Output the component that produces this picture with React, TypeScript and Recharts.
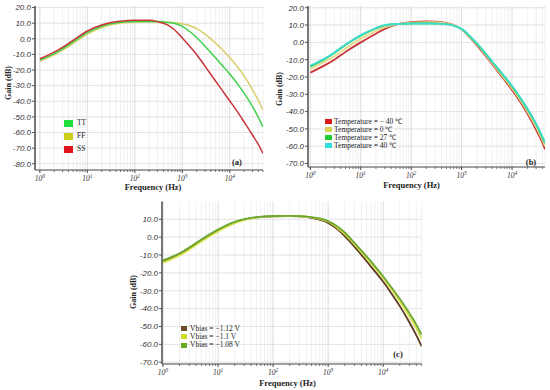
import React from 'react';
import { LineChart, Line, XAxis, YAxis, CartesianGrid, Legend } from 'recharts';

// ---------- data ----------
const freqs = [1, 2, 3, 5, 10, 20, 30, 50, 100, 200, 300, 500, 700, 1000, 1500, 2000, 3000, 5000, 7000, 10000, 15000, 20000, 30000, 40000, 50000];
const freqsB = [1, 2, 3, 5, 10, 20, 30, 50, 100, 200, 300, 500, 700, 1000, 1500, 2000, 3000, 5000, 7000, 10000, 15000, 20000, 30000, 40000, 45000];

// (a) process corners
const gainTT = [-13.6, -9.5, -6.5, -2, 4, 8, 9.6, 10.6, 11, 11.1, 11, 10.5, 9.8, 8, 4.2, 0.8, -4.8, -12.2, -17.2, -22.6, -29.5, -34.8, -43.3, -50.4, -56.5];
const gainFF = [-14.3, -10.3, -7.3, -3, 3, 7.2, 8.9, 10, 10.6, 10.7, 10.7, 10.5, 10.3, 9.7, 8.2, 6.5, 3, -2.8, -7, -12, -18.5, -23.7, -32.5, -39.5, -45.5];
const gainSS = [-12.8, -8.5, -5.5, -1, 5, 8.8, 10.3, 11.3, 11.9, 11.8, 11, 8.8, 5.5, 0.5, -5.5, -10, -17.5, -27, -33.2, -39.8, -47.4, -53.2, -61.6, -67.8, -73.3];

// (b) temperature
const gainTm40 = [-17.5, -13, -10, -5.5, 0, 5, 7.8, 10.3, 11.7, 12.1, 12, 11.2, 10, 7.5, 2.4, -1.6, -7.9, -16.1, -21.6, -27.5, -35, -41, -50.5, -58, -61.8];
const gainT0 = [-15.5, -11, -8, -3.5, 2, 6.5, 8.8, 10.4, 11.4, 11.7, 11.6, 11, 9.9, 7.6, 2.7, -1.1, -7.3, -15.4, -20.8, -26.5, -34, -39.8, -49, -56.5, -60];
const gainT27 = [-14, -9.5, -6.2, -1.5, 3.8, 8, 9.8, 10.6, 10.9, 11, 10.9, 10.5, 9.6, 7.7, 3.1, -0.7, -6.7, -14.6, -19.8, -25.5, -32.8, -38.5, -47.4, -55, -58.3];
const gainT40 = [-13.4, -9, -5.8, -1.2, 4.2, 8.3, 10, 10.6, 10.8, 10.9, 10.8, 10.4, 9.6, 7.8, 3.3, -0.5, -6.4, -14.3, -19.5, -25.1, -32.4, -38.1, -47, -54.5, -57.8];

// (c) bias voltage
const gainV112 = [-13.5, -9.5, -6.3, -1.8, 3.6, 8, 9.8, 11, 11.7, 11.8, 11.6, 10.8, 9.8, 8, 4.2, 0.6, -5.3, -13.5, -19, -25, -32.8, -38.6, -47.8, -55, -61.2];
const gainV110 = [-14.3, -10.2, -7, -2.4, 3.2, 7.8, 9.7, 10.9, 11.6, 11.8, 11.7, 11, 10.2, 8.6, 5, 1.7, -4, -11.8, -17.1, -23, -30.4, -36, -44.6, -51.2, -57];
const gainV108 = [-13, -9, -5.8, -1.3, 4.2, 8.5, 10.1, 11.2, 11.8, 11.9, 11.8, 11.2, 10.5, 9, 5.8, 2.6, -3.2, -10.8, -16.1, -22, -29.2, -34.5, -42.6, -49, -54.7];

// ticks
const majorTicks = [1, 10, 100, 1000, 10000];
const majorExponents = ['0', '1', '2', '3', '4'];
const minorSteps = [2, 3, 4, 5, 6, 7, 8, 9];
const gainTicksA = [-80, -70, -60, -50, -40, -30, -20, -10, 0, 10, 20];
const gainTicksB = [-70, -60, -50, -40, -30, -20, -10, 0, 10, 20];
const gainTicksC = [-70, -60, -50, -40, -30, -20, -10, 0, 10];

const SERIF = '"Liberation Serif", "Times New Roman", serif';
const SANS = '"Liberation Sans", Arial, sans-serif';

type Series = { name: string; color: string; swatch: string; freqs: number[]; values: number[] };

const toPoints = (fs: number[], vs: number[]) => fs.map((f, i) => ({ f, v: vs[i] }));

function makeXTicks(max: number) {
  const t: number[] = [];
  majorTicks.forEach((m) => {
    t.push(m);
    minorSteps.forEach((s) => {
      if (m * s <= max) t.push(m * s);
    });
  });
  return t;
}

const XTick = (props: any) => {
  const { x, y, payload } = props;
  const idx = majorTicks.indexOf(payload.value);
  if (idx >= 0) {
    return (
      <g>
        <line x1={x} x2={x} y1={y} y2={y + 3} stroke="#444" strokeWidth={1} />
        <text x={x} y={y + 11} textAnchor="middle" fontSize={7.5} fontStyle="italic" fill="#333" fontFamily={SERIF}>
          10
          <tspan dy={-3.5} fontSize={5.5}>
            {majorExponents[idx]}
          </tspan>
        </text>
      </g>
    );
  }
  return <line x1={x} x2={x} y1={y} y2={y + 2} stroke="#555" strokeWidth={0.8} />;
};

type PanelCfg = {
  left: number;
  top: number;
  width: number;
  height: number;
  margin: { top: number; right: number; bottom: number; left: number };
  yWidth: number;
  xHeight: number;
  xDomain: [number, number];
  yDomain: [number, number];
  yTicks: number[];
  series: Series[];
  legendOrder: number[];
  lineWidth: number;
  legend: { left: number; top: number; rowH: number; swW: number; swH: number; gap: number; fontSize: number };
};

function Panel({ cfg }: { cfg: PanelCfg }) {
  const xTicks = makeXTicks(cfg.xDomain[1]);
  return (
    <div style={{ position: 'absolute', left: cfg.left, top: cfg.top, width: cfg.width, height: cfg.height }}>
      <LineChart width={cfg.width} height={cfg.height} margin={cfg.margin}>
        <CartesianGrid stroke="#ededed" strokeWidth={0.8} horizontal={false} vertical={true} />
        <CartesianGrid stroke="#dcdcdc" strokeWidth={0.8} verticalValues={majorTicks} horizontalValues={cfg.yTicks} />
        <XAxis
          type="number"
          dataKey="f"
          scale="log"
          domain={cfg.xDomain}
          allowDataOverflow
          ticks={xTicks}
          interval={0}
          tick={<XTick />}
          tickLine={false}
          tickSize={0}
          tickMargin={0}
          height={cfg.xHeight}
          axisLine={{ stroke: '#444', strokeWidth: 1 }}
        />
        <YAxis
          type="number"
          dataKey="v"
          domain={cfg.yDomain}
          allowDataOverflow
          ticks={cfg.yTicks}
          interval={0}
          width={cfg.yWidth}
          tickFormatter={(v: number) => v.toFixed(1)}
          tick={{ fontSize: 8, fontStyle: 'italic', fill: '#333', fontFamily: SANS }}
          tickSize={3}
          tickMargin={1}
          tickLine={{ stroke: '#555' }}
          axisLine={{ stroke: '#777', strokeWidth: 2 }}
        />
        {cfg.series.map((s) => (
          <Line
            key={s.name}
            name={s.name}
            data={toPoints(s.freqs, s.values)}
            dataKey="v"
            type="monotone"
            stroke={s.color}
            strokeWidth={cfg.lineWidth}
            dot={false}
            activeDot={false}
            isAnimationActive={false}
          />
        ))}
        <Legend
          layout="vertical"
          align="center"
          verticalAlign="middle"
          wrapperStyle={{ position: 'absolute', left: cfg.legend.left, top: cfg.legend.top, width: 'auto', height: 'auto', margin: 0 }}
          content={() => (
            <div>
              {cfg.legendOrder.map((i) => {
                const s = cfg.series[i];
                return (
                  <div key={s.name} style={{ display: 'flex', alignItems: 'center', height: cfg.legend.rowH, whiteSpace: 'nowrap' }}>
                    <span
                      style={{ display: 'inline-block', width: cfg.legend.swW, height: cfg.legend.swH, background: s.swatch, marginRight: cfg.legend.gap }}
                    />
                    <span style={{ fontFamily: SERIF, fontSize: cfg.legend.fontSize, color: '#222', lineHeight: 1 }}>{s.name}</span>
                  </div>
                );
              })}
            </div>
          )}
        />
      </LineChart>
    </div>
  );
}

const titleStyle: React.CSSProperties = {
  position: 'absolute',
  fontFamily: SERIF,
  fontWeight: 'bold',
  color: '#222',
  whiteSpace: 'nowrap',
  lineHeight: 1,
};

function Title({ x, y, text, size, rotate }: { x: number; y: number; text: string; size: number; rotate?: boolean }) {
  return (
    <div
      style={{
        ...titleStyle,
        left: x,
        top: y,
        fontSize: size,
        transform: rotate ? 'translate(-50%, -50%) rotate(-90deg)' : 'translate(-50%, -50%)',
      }}
    >
      {text}
    </div>
  );
}

const seriesA: Series[] = [
  { name: 'FF', color: '#d6cf68', swatch: '#cccc1a', freqs, values: gainFF },
  { name: 'TT', color: '#3fcf4a', swatch: '#1edd3c', freqs, values: gainTT },
  { name: 'SS', color: '#c8363a', swatch: '#e0141e', freqs, values: gainSS },
];

const seriesB: Series[] = [
  { name: 'Temperature = − 40 ℃', color: '#c8323a', swatch: '#dd1a1a', freqs: freqsB, values: gainTm40 },
  { name: 'Temperature = 0 ℃', color: '#e6d98a', swatch: '#d8d050', freqs: freqsB, values: gainT0 },
  { name: 'Temperature = 27 ℃', color: '#2ecc55', swatch: '#22cc33', freqs: freqsB, values: gainT27 },
  { name: 'Temperature = 40 ℃', color: '#3ddccc', swatch: '#33dddd', freqs: freqsB, values: gainT40 },
];

const seriesC: Series[] = [
  { name: 'Vbias = −1.12 V', color: '#5c3b1e', swatch: '#6b4a2a', freqs, values: gainV112 },
  { name: 'Vbias = −1.1 V', color: '#d8e04a', swatch: '#ccdd22', freqs, values: gainV110 },
  { name: 'Vbias = −1.08 V', color: '#6aa832', swatch: '#66aa22', freqs, values: gainV108 },
];

const panelA: PanelCfg = {
  left: 0,
  top: 0,
  width: 275,
  height: 195,
  margin: { top: 6, right: 12, bottom: 0, left: 0 },
  yWidth: 35,
  xHeight: 25,
  xDomain: [0.79, 50000],
  yDomain: [-84, 21],
  yTicks: gainTicksA,
  series: seriesA,
  legendOrder: [1, 0, 2],
  lineWidth: 1.5,
  legend: { left: 64, top: 116.5, rowH: 13, swW: 9, swH: 7, gap: 4, fontSize: 7.5 },
};

const panelB: PanelCfg = {
  left: 275,
  top: 0,
  width: 275,
  height: 195,
  margin: { top: 6, right: 5, bottom: 0, left: 0 },
  yWidth: 33,
  xHeight: 28,
  xDomain: [0.9, 45000],
  yDomain: [-72, 21],
  yTicks: gainTicksB,
  series: seriesB,
  legendOrder: [0, 1, 2, 3],
  lineWidth: 1.8,
  legend: { left: 50, top: 118.1, rowH: 7.8, swW: 7, swH: 5, gap: 2, fontSize: 7.5 },
};

const panelC: PanelCfg = {
  left: 120,
  top: 190,
  width: 310,
  height: 200,
  margin: { top: 11.4, right: 8.3, bottom: 0, left: 0 },
  yWidth: 42,
  xHeight: 26,
  xDomain: [0.96, 50000],
  yDomain: [-71, 20],
  yTicks: gainTicksC,
  series: seriesC,
  legendOrder: [0, 1, 2],
  lineWidth: 1.8,
  legend: { left: 61, top: 134.3, rowH: 8.3, swW: 6, swH: 5, gap: 3, fontSize: 7.5 },
};

export default function App() {
  return (
    <div style={{ position: 'absolute', left: 0, top: 0, width: 550, height: 390, background: '#fff', overflow: 'hidden' }}>
      <Panel cfg={panelA} />
      <Panel cfg={panelB} />
      <Panel cfg={panelC} />
      <Title x={8.5} y={83} text="Gain (dB)" size={8} rotate />
      <Title x={153} y={187} text="Frequency (Hz)" size={8.5} />
      <Title x={237} y={162} text="(a)" size={8.5} />
      <Title x={280} y={89} text="Gain (dB)" size={8} rotate />
      <Title x={411.5} y={185} text="Frequency (Hz)" size={8.5} />
      <Title x={531} y={162} text="(b)" size={8.5} />
      <Title x={134} y={292} text="Gain (dB)" size={8} rotate />
      <Title x={287.5} y={382.5} text="Frequency (Hz)" size={8.5} />
      <Title x={398} y={354} text="(c)" size={8.5} />
    </div>
  );
}
